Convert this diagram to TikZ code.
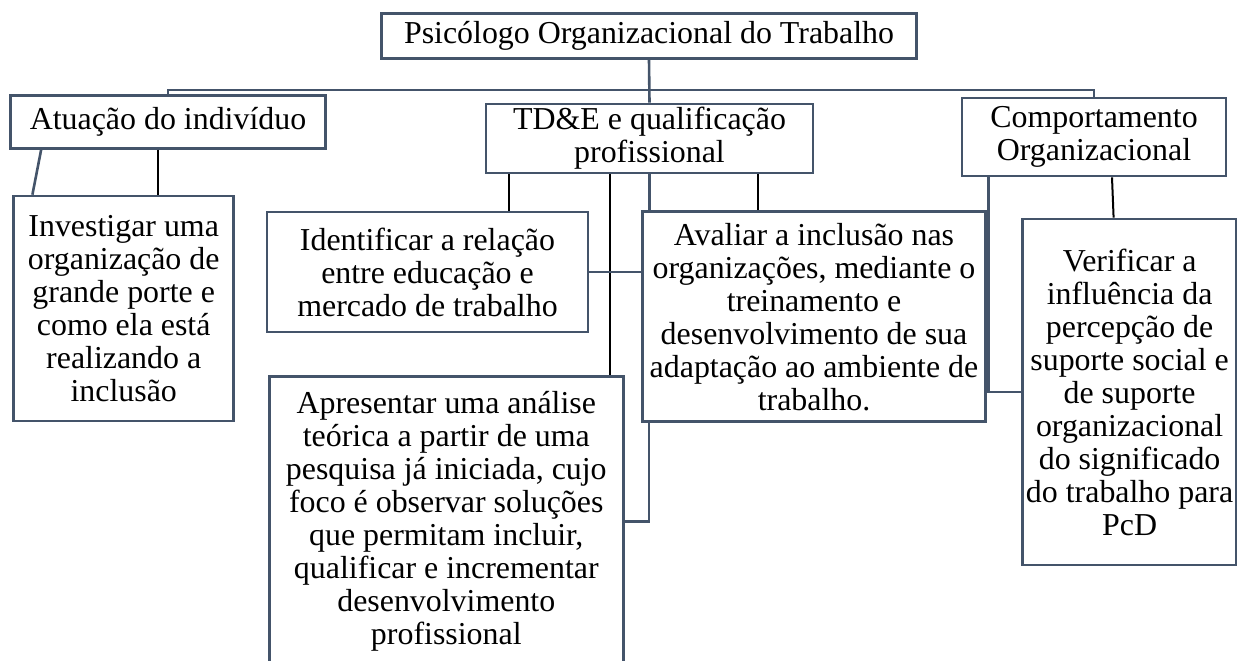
\documentclass[tikz,border=0pt]{standalone}
\usepackage{fontspec}
\setmainfont{Liberation Serif}
\definecolor{slate}{HTML}{44546A}

\begin{document}
\begin{tikzpicture}[x=1pt,y=-1pt,
        box/.style={draw=slate, line width=2.6pt, fill=white, align=center, inner sep=0pt, font=\fontsize{31.9}{33}\selectfont},
        link/.style={slate, line width=2.6pt},
        blink/.style={black, line width=2pt}]
        % Frame of the picture
        \clip (0,0) rectangle (1237,661);

        % Top of the chart
        \node[box, minimum width=535pt, minimum height=45pt] (psico) at (649,36) {Psicólogo Organizacional do Trabalho};

        % The three areas
        \node[box, minimum width=315pt, minimum height=53pt] (atuacao) at (168,121.7) {Atuação do indivíduo};
        \node[box, minimum width=327pt, minimum height=69pt] (tde) at (649.5,138.5) {TD\&E e qualificação\\profissional};
        \node[box, minimum width=264pt, minimum height=78pt] (comport) at (1094,137) {Comportamento\\Organizacional};

        % The aims under each area
        \node[box, minimum width=220pt, minimum height=225pt] (investigar) at (123.7,308.5) {Investigar uma\\organização de\\grande porte e\\como ela está\\realizando a\\inclusão};
        \node[box, minimum width=321pt, minimum height=120pt] (identificar) at (427.5,272) {Identificar a relação\\entre educação e\\mercado de trabalho};
        \node[box, minimum width=343.5pt, minimum height=210pt] (avaliar) at (814,316.7) {Avaliar a inclusão nas\\organizações, mediante o\\treinamento e\\desenvolvimento de sua\\adaptação ao ambiente de\\trabalho.};
        \node[box, minimum width=354pt, minimum height=290pt] (apresentar) at (446.3,521.7) {Apresentar uma análise\\teórica a partir de uma\\pesquisa já iniciada, cujo\\foco é observar soluções\\que permitam incluir,\\qualificar e incrementar\\desenvolvimento\\profissional};
        \node[box, minimum width=214pt, minimum height=346pt] (verificar) at (1129.6,392) {Verificar a\\influência da\\percepção de\\suporte social e\\de suporte\\organizacional\\do significado\\do trabalho para\\PcD};

        % Trunk and bus to the areas
        \coordinate (bus) at (649,90);
        \draw[link] (psico.south) -- (tde.north);
        \draw[link] (atuacao.north) |- (bus) -| (comport.north);

        % Lines from Atuação
        \draw[link] ([xshift=32pt]atuacao.south west) -- ([xshift=20pt]investigar.north west);
        \draw[blink] ([xshift=-10pt]atuacao.south) -- ([xshift=-10pt]atuacao.south |- investigar.north);

        % Lines from TD&E
        \draw[blink] ([xshift=24pt]tde.south west) -- ([xshift=24pt]tde.south west |- identificar.north);
        \draw[blink] ([xshift=-40pt]tde.south) -- ([xshift=-40pt]tde.south |- apresentar.north);
        \draw[link] (tde.south) -- (tde.south |- avaliar.north);
        \draw[blink] ([xshift=108pt]tde.south) -- ([xshift=108pt]tde.south |- avaliar.north);
        \draw[link] (identificar.east) -- (identificar.east -| avaliar.west);
        \draw[link] ([xshift=8pt]avaliar.south west) |- (apresentar.east);

        % Lines from Comportamento
        \draw[link] ([xshift=28pt]comport.south west) |- (verificar.west);
        \draw[blink] ([xshift=18pt]comport.south) -- ([xshift=-16pt]verificar.north);
\end{tikzpicture}
\end{document}
